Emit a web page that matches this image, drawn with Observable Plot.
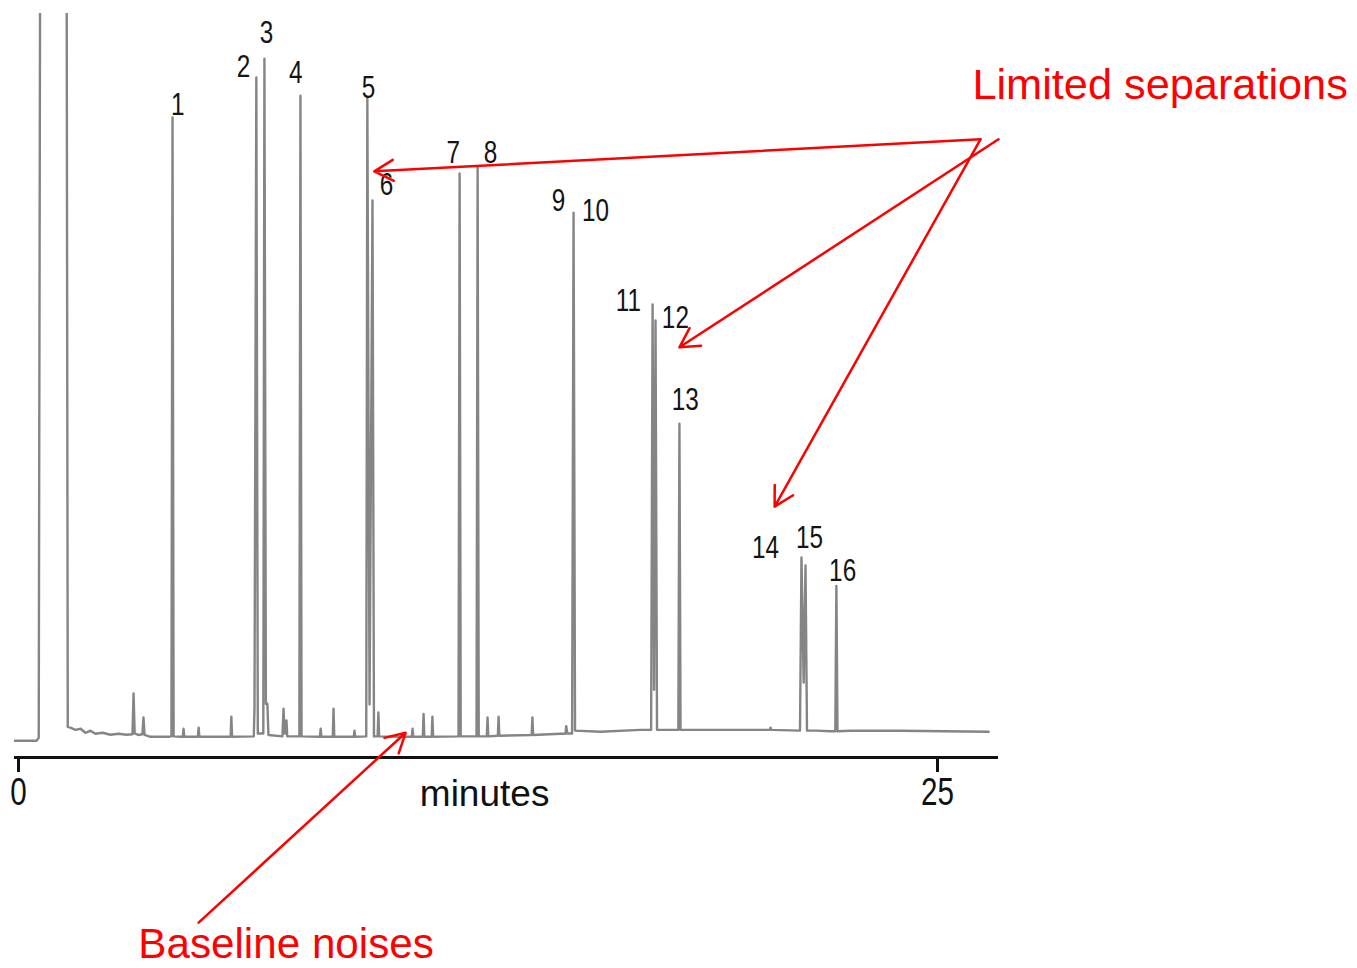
<!DOCTYPE html>
<html>
<head>
<meta charset="utf-8">
<script src="https://cdn.jsdelivr.net/npm/d3@7"></script>
<script src="https://cdn.jsdelivr.net/npm/@observablehq/plot@0.6"></script>
<style>
  html, body { margin: 0; padding: 0; background: #fff; }
  #chart svg { display: block; }
</style>
</head>
<body>
<div id="chart"></div>
<script>
// Chromatogram trace: [retention time (min), detector response (% of full scale)]
const trace = [
  [-0.11,0],[0.49,0],[0.55,0.4],[0.60,140],[1.30,140],[1.34,1.9],
  [1.41,1.8],[1.55,1.5],[1.69,1.65],[1.82,1.1],[1.96,1.38],[2.09,0.96],[2.29,1.1],[2.50,0.83],[2.72,0.96],[2.94,0.83],
  [3.10,0.9],[3.13,6.5],[3.16,1.0],[3.26,0.8],[3.37,0.9],[3.40,3.2],[3.43,0.8],
  [3.59,0.55],[4.08,0.55],
  [4.16,0.6],[4.19,85.7],[4.22,0.6],
  [4.41,0.55],[4.47,0.55],[4.49,1.65],[4.51,0.55],[4.88,0.55],[4.90,1.8],[4.92,0.55],
  [5.77,0.55],[5.79,3.3],[5.81,0.55],
  [6.40,0.6],[6.42,4.5],[6.47,91.2],[6.51,1.0],
  [6.66,1.0],[6.69,93.8],[6.73,5.1],[6.77,5.1],[6.80,0.8],
  [7.18,0.6],[7.21,4.4],[7.24,1.0],[7.27,1.0],[7.29,2.8],[7.31,0.6],
  [7.64,0.6],[7.67,88.7],[7.70,0.6],
  [8.20,0.55],[8.22,1.65],[8.24,0.55],[8.55,0.55],[8.57,4.4],[8.59,0.55],[9.12,0.55],[9.14,1.4],[9.16,0.55],
  [9.46,0.6],[9.49,88.3],[9.55,5.0],[9.63,74.3],[9.67,0.6],
  [9.77,0.6],[9.79,3.9],[9.81,0.6],
  [10.39,0.55],[10.70,0.55],[10.72,1.65],[10.74,0.55],[11.00,0.55],[11.02,3.7],[11.04,0.55],[11.24,0.55],[11.26,3.3],[11.28,0.55],
  [11.97,0.6],[12.00,78.0],[12.03,0.6],
  [12.46,0.6],[12.49,78.8],[12.52,0.6],
  [12.74,0.6],[12.76,3.2],[12.78,0.6],[13.04,0.7],[13.06,3.3],[13.08,0.7],[13.96,0.8],[13.98,3.2],[14.00,0.8],
  [14.74,0.96],[14.88,0.96],[14.90,2.0],[14.93,1.0],
  [15.06,1.0],[15.10,72.6],[15.14,1.4],
  [15.83,1.24],[16.92,1.5],
  [17.21,1.5],[17.25,60.0],[17.29,7],[17.33,57.8],[17.37,1.5],
  [17.95,1.5],[17.98,43.6],[18.01,1.5],
  [18.55,1.5],[20.18,1.5],[20.44,1.5],[20.46,1.8],[20.48,1.5],
  [21.26,1.4],[21.30,25.2],[21.36,8],[21.41,24.1],[21.45,1.4],
  [21.68,1.4],[22.09,1.3],
  [22.22,1.3],[22.25,21.3],[22.28,1.3],
  [22.63,1.38],[23.99,1.38],[26.39,1.24]
];

// Peak numbers and where their labels sit (time, response at label baseline)
const peakNames  = ["1","2","3","4","5","6","7","8","9","10","11","12","13","14","15","16"];
const labelTimes = [4.33,6.12,6.75,7.54,9.52,10.01,11.83,12.84,14.69,15.70,16.59,17.87,18.14,20.32,21.52,22.42];
const labelResp  = [86.0,91.3,95.9,90.4,88.4,75.0,79.4,79.4,72.8,71.5,59.1,56.8,45.5,25.2,26.5,22.0];

// Axis
const xTicks = [0, 25];
const xTitle = "minutes";
const xTitleTime = 12.68;

// Red annotations
const noteTexts = ["Limited separations", "Baseline noises"];
const noteTimes = [25.95, 3.26];
const noteResp  = [88.3, -29.9];
const arrowFrom = [[26.17,82.7],[26.66,82.7],[26.17,82.7],[4.90,-25.0]];
const arrowTo   = [[9.68,78.3],[17.98,54.1],[20.57,32.2],[10.53,1.1]];

const labels = peakNames.map((n, i) => ({n, t: labelTimes[i], r: labelResp[i]}));
const notes = noteTexts.map((s, i) => ({s, t: noteTimes[i], r: noteResp[i]}));
const arrows = arrowFrom.map((a, i) => ({x1: a[0], y1: a[1], x2: arrowTo[i][0], y2: arrowTo[i][1]}));

const sans = "'Liberation Sans', Arial, sans-serif";

const chart = Plot.plot({
  width: 1357,
  height: 968,
  marginLeft: 14,
  marginRight: 359,
  marginTop: 13,
  marginBottom: 211,
  style: {background: "#fff", overflow: "visible"},
  x: {domain: [-0.109, 26.66], axis: null},
  y: {domain: [-2.3, 100], axis: null},
  marks: [
    Plot.line(trace, {x: d => d[0], y: d => d[1], stroke: "#858585", strokeWidth: 2.4, clip: true}),
    Plot.ruleY([-2.3], {stroke: "#111", strokeWidth: 3}),
    Plot.axisX({ticks: xTicks, tickSize: 15, tickPadding: 5, strokeWidth: 3, stroke: "#111",
      fill: "#111", fontSize: 39, fontFamily: sans, tickFormat: d => String(d), label: null,
      ariaLabel: "condensed-ticks"}),
    Plot.text([xTitle], {x: [xTitleTime], frameAnchor: "bottom", dy: 22, lineAnchor: "top",
      fontSize: 37, fontFamily: sans, fill: "#111"}),
    Plot.text(labels, {x: "t", y: "r", text: "n", lineAnchor: "bottom", textAnchor: "middle",
      fontSize: 32, fontFamily: sans, fill: "#141414"}),
    Plot.arrow(arrows, {x1: "x1", y1: "y1", x2: "x2", y2: "y2", stroke: "#ff0000",
      strokeWidth: 2.5, headLength: 13, headAngle: 58}),
    Plot.text(notes.slice(0, 1), {x: "t", y: "r", text: "s", lineAnchor: "bottom", textAnchor: "start",
      fontSize: 43.3, fontFamily: sans, fill: "#ff0000"}),
    Plot.text(notes.slice(1), {x: "t", y: "r", text: "s", lineAnchor: "bottom", textAnchor: "start",
      fontSize: 42.2, fontFamily: sans, fill: "#ff0000"})
  ]
});
document.getElementById("chart").append(chart);

// The original's digits are set in a condensed face: narrow them horizontally.
function condense(el) {
  const t = el.getAttribute("transform");
  if (t) {
    el.setAttribute("transform", t + " scale(0.76,1)");
  } else {
    const x = +el.getAttribute("x") || 0;
    const y = +el.getAttribute("y") || 0;
    el.removeAttribute("x");
    el.removeAttribute("y");
    el.setAttribute("transform", `translate(${x},${y}) scale(0.76,1)`);
  }
}
const svg = d3.select(chart);
svg.selectAll('[aria-label^="condensed"] text').each(function () { condense(this); });
svg.selectAll('g[aria-label="text"]').each(function () {
  const texts = this.querySelectorAll("text");
  if (texts.length === peakNames.length) texts.forEach(condense);
});
</script>
</body>
</html>
